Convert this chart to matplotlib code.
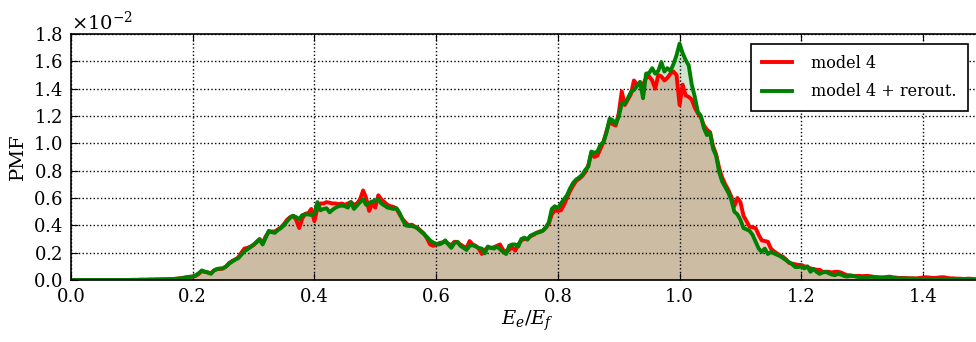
import numpy as np
import matplotlib
matplotlib.use("Agg")
import matplotlib.pyplot as plt

plt.rcParams["font.family"] = "DejaVu Serif"
plt.rcParams["mathtext.fontset"] = "dejavuserif"

# Histogram bins of E_e / E_f (bin width 0.005)
bin_width = 0.005
ratio = np.arange(300) * bin_width

# PMF values in units of 1e-3, one entry per bin
low_tail = [0.0] * 20 + [0.01, 0.01, 0.01, 0.02, 0.02, 0.02, 0.03, 0.03, 0.04, 0.04]

pmf_model4 = low_tail + [
    0.05, 0.05, 0.06, 0.07, 0.08, 0.1, 0.13, 0.17, 0.2, 0.24,
    0.25, 0.3, 0.45, 0.65, 0.6, 0.55, 0.5, 0.7, 0.8, 0.8,
    0.85, 1.0, 1.25, 1.4, 1.5, 1.65, 2.0, 2.3, 2.35, 2.45,
    2.55, 2.8, 3.0, 2.7, 3.2, 3.5, 3.55, 3.55, 3.7, 3.85,
    4.1, 4.4, 4.6, 4.7, 4.4, 3.8, 4.5, 4.85, 4.9, 5.2,
    4.3, 5.3, 5.6, 5.6, 5.7, 5.65, 5.6, 5.6, 5.55, 5.6,
    5.5, 5.6, 5.7, 5.5, 5.6, 5.9, 6.55, 6.0, 5.05, 5.6,
    5.3, 6.2, 5.9, 5.7, 5.5, 5.4, 5.35, 5.2, 4.8, 4.45,
    4.2, 4.0, 4.05, 3.9, 3.8, 3.6, 3.4, 3.05, 2.6, 2.5,
    2.6, 2.7, 2.75, 2.8, 2.65, 2.55, 2.8, 2.75, 2.6, 2.45,
    2.35, 2.85, 2.6, 2.5, 2.3, 1.9, 2.2, 2.4, 2.35, 2.4,
    2.5, 2.6, 2.2, 2.05, 2.2, 2.4, 2.15, 2.6, 2.9, 3.0,
    3.0, 3.2, 3.3, 3.45, 3.55, 3.6, 3.8, 4.1, 4.8, 5.1,
    5.05, 5.1, 5.5, 6.0, 6.5, 6.9, 7.25, 7.4, 7.6, 7.9,
    8.4, 9.3, 9.0, 9.1, 9.6, 10.1, 10.9, 11.6, 11.4, 11.3,
    12.2, 13.8, 12.8, 13.2, 13.6, 14.6, 14.3, 14.4, 14.3, 14.8,
    14.9, 14.6, 14.0, 15.0, 14.9, 14.6, 14.8, 15.1, 15.25, 15.0,
    12.8, 14.3, 13.5, 13.4, 13.2, 12.6, 12.2, 11.9, 11.3, 11.0,
    10.8, 9.8, 9.2, 8.2, 7.5, 7.0, 6.6, 6.1, 5.4, 6.0,
    5.7, 4.7, 4.3, 3.9, 3.85, 3.8, 3.3, 2.9, 2.85, 2.8,
    2.3, 2.1, 1.95, 1.8, 1.7, 1.5, 1.25, 1.2, 1.15, 1.1,
    1.1, 1.0, 0.95, 0.85, 0.8, 0.75, 0.75, 0.6, 0.6, 0.6,
    0.55, 0.6, 0.6, 0.55, 0.45, 0.35, 0.35, 0.3, 0.3, 0.3,
    0.28, 0.3, 0.3, 0.25, 0.22, 0.2, 0.2, 0.2, 0.22, 0.25,
    0.2, 0.18, 0.15, 0.15, 0.15, 0.13, 0.13, 0.12, 0.12, 0.15,
    0.18, 0.2, 0.18, 0.15, 0.15, 0.18, 0.2, 0.2, 0.15, 0.12,
    0.12, 0.1, 0.1, 0.08, 0.08, 0.1, 0.08, 0.06, 0.05, 0.05,
]

pmf_rerouted = low_tail + [
    0.05, 0.05, 0.06, 0.06, 0.08, 0.1, 0.12, 0.15, 0.2, 0.22,
    0.25, 0.35, 0.5, 0.7, 0.6, 0.55, 0.45, 0.7, 0.8, 0.85,
    0.85, 1.0, 1.2, 1.35, 1.5, 1.6, 1.85, 2.1, 2.25, 2.4,
    2.6, 2.75, 2.95, 2.6, 3.1, 3.6, 3.5, 3.45, 3.65, 3.8,
    4.0, 4.3, 4.55, 4.7, 4.6, 4.45, 4.75, 4.8, 4.8, 4.75,
    4.85, 5.7, 5.1, 5.2, 5.25, 4.95, 5.15, 5.3, 5.4, 5.45,
    5.4, 5.3, 5.7, 5.2, 5.45, 5.7, 5.9, 5.5, 5.65, 5.75,
    5.8, 5.9, 5.6, 5.45, 5.3, 5.25, 5.2, 5.25, 4.9, 4.4,
    4.0, 3.95, 3.95, 3.9, 3.75, 3.55, 3.35, 3.15, 2.9, 2.75,
    2.65, 2.6, 2.7, 2.9, 2.6, 2.35, 2.7, 2.8, 2.5, 2.35,
    2.2, 2.5, 2.55, 2.45, 2.35, 2.3, 1.95, 2.45, 2.35, 2.3,
    2.45, 2.25, 2.05, 1.9, 2.5, 2.6, 2.6, 2.45, 3.0, 3.1,
    2.95, 3.25, 3.35, 3.45, 3.5, 3.6, 3.85, 4.2, 5.2, 5.4,
    5.25, 5.6, 5.9, 6.2, 6.7, 7.1, 7.35, 7.5, 7.7, 8.05,
    8.3, 9.4, 9.3, 9.4, 9.9, 10.1, 10.8, 11.8, 11.7, 11.4,
    11.95, 12.9, 12.9, 13.3, 13.75, 13.9, 14.2, 14.5, 13.3, 15.1,
    15.15, 15.5, 15.1, 15.3, 15.95, 15.25, 15.5, 15.3, 15.8, 16.45,
    17.3, 16.6, 16.1, 15.7, 14.3, 13.4, 12.3, 12.0, 11.1, 10.6,
    10.8, 9.6, 9.1, 7.9, 7.2, 6.8, 6.4, 5.85, 5.0, 4.8,
    4.4, 3.8, 3.7, 3.6, 3.3, 2.8, 2.3, 2.05, 2.3, 1.9,
    2.05, 1.95, 1.85, 1.75, 1.6, 1.45, 1.3, 1.15, 0.95, 0.95,
    1.0, 0.85, 1.0, 0.6, 0.8, 0.6, 0.45, 0.55, 0.6, 0.5,
    0.4, 0.35, 0.45, 0.4, 0.3, 0.25, 0.3, 0.3, 0.25, 0.2,
    0.2, 0.2, 0.2, 0.25, 0.22, 0.18, 0.15, 0.15, 0.15, 0.22,
    0.15, 0.12, 0.12, 0.12, 0.1, 0.1, 0.1, 0.1, 0.08, 0.08,
    0.07, 0.07, 0.06, 0.06, 0.05, 0.06, 0.05, 0.05, 0.05, 0.04,
    0.04, 0.04, 0.04, 0.03, 0.03, 0.03, 0.03, 0.02, 0.02, 0.02,
]

red = np.array(pmf_model4) * 1e-3
green = np.array(pmf_rerouted) * 1e-3

fig = plt.figure(figsize=(9.76, 3.42), dpi=100)
ax = fig.add_axes([0.0727, 0.1813, 0.9354, 0.7193])

ax.fill_between(ratio, red, color="r", alpha=0.2, linewidth=0)
ax.fill_between(ratio, green, color="g", alpha=0.2, linewidth=0)
ax.plot(ratio, red, color="r", lw=2.8, label="model 4")
ax.plot(ratio, green, color="g", lw=2.8, label="model 4 + rerout.")

ax.set_xlim(0, 1.5)
ax.set_ylim(0, 0.018)
ax.set_xticks(np.arange(0, 1.41, 0.2))
ax.set_yticks(np.arange(0, 0.0181, 0.002))
ax.ticklabel_format(axis="y", style="sci", scilimits=(-2, -2), useMathText=True)
ax.yaxis.get_offset_text().set_fontsize(14)

ax.tick_params(direction="in", top=True, right=True, length=5, labelsize=13)
ax.tick_params(axis="x", pad=6)
ax.tick_params(axis="y", pad=6)
ax.grid(True, linestyle=":", color="k", linewidth=1)
for s in ax.spines.values():
    s.set_linewidth(1.2)

ax.set_xlabel(r"$E_e/E_f$", fontsize=14, labelpad=2)
ax.set_ylabel("PMF", fontsize=14, labelpad=4)

leg = ax.legend(loc="upper right", bbox_to_anchor=(0.9825, 0.96), borderaxespad=0,
                fontsize=11.5, fancybox=False, framealpha=1, edgecolor="k",
                handlelength=1.9, handletextpad=1.2, borderpad=0.7, labelspacing=0.7)
leg.get_frame().set_linewidth(1.2)

fig.savefig("out.png", dpi=100)
